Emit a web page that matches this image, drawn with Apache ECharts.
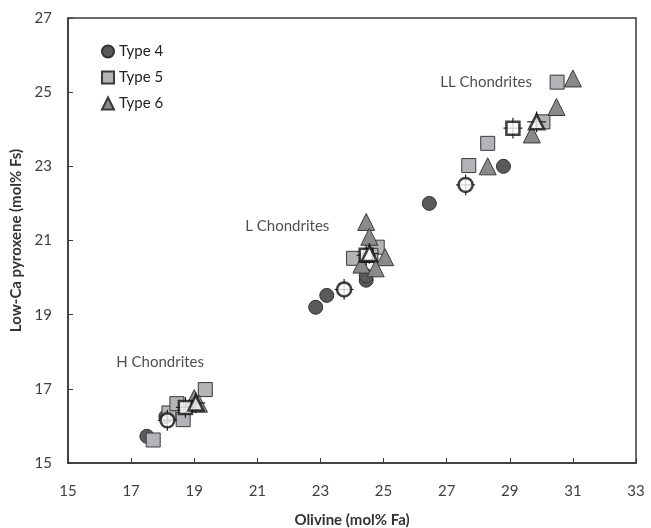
<!DOCTYPE html>
<html>
<head>
<meta charset="utf-8">
<script src="https://cdn.jsdelivr.net/npm/echarts@6/dist/echarts.min.js"></script>
<style>
  html, body { margin: 0; padding: 0; background: #fff; }
  #main { width: 651px; height: 528px; }
</style>
</head>
<body>
<div id="main"></div>
<script>
// individual meteorites [olivine Fa, low-Ca pyroxene Fs]
const type4 = [
  [17.5, 15.72], [18.1, 16.25],
  [22.85, 19.2], [23.2, 19.52], [24.45, 19.93], [24.45, 20.05],
  [26.45, 22.0], [28.8, 23.0]
];
const type5 = [
  [17.7, 15.62], [18.2, 16.35], [18.45, 16.6], [18.65, 16.17], [19.35, 16.98],
  [24.05, 20.52], [24.8, 20.82], [24.6, 20.6],
  [27.7, 23.02], [28.3, 23.62], [30.05, 24.2], [30.5, 25.27]
];
const type6 = [
  [19.0, 16.75], [19.15, 16.6],
  [24.45, 21.5], [24.55, 21.1], [25.05, 20.55], [24.3, 20.35], [24.75, 20.25],
  [28.3, 23.0], [29.7, 23.86], [30.48, 24.6], [31.0, 25.37]
];
// group means with error half-widths [x, y, dx, dy]
const mean4 = [[18.15, 16.15, 0.3, 0.28], [23.75, 19.68, 0.3, 0.28], [27.6, 22.5, 0.3, 0.28]];
const mean5 = [[18.72, 16.5, 0.3, 0.28], [29.1, 24.03, 0.3, 0.28], [24.45, 20.6, 0.3, 0.28]];
const mean6 = [[19.05, 16.62, 0.3, 0.28], [24.55, 20.65, 0.3, 0.28], [29.85, 24.2, 0.3, 0.28]];
// group labels
const groupLabels = [
  ['LL Chondrites', 28.25, 25.27],
  ['L Chondrites', 21.95, 21.39],
  ['H Chondrites', 17.92, 17.72]
];
const xTicks = [15, 33, 2];
const yTicks = [15, 27, 2];

const font = 'Lato, "Open Sans", sans-serif';
const edge = '#3a3a3a';

function errorBars(data) {
  return {
    type: 'custom',
    silent: true,
    z: 3,
    renderItem: function (params, api) {
      const x = api.value(0), y = api.value(1), dx = api.value(2), dy = api.value(3);
      const l = api.coord([x - dx, y]), r = api.coord([x + dx, y]);
      const t = api.coord([x, y + dy]), b = api.coord([x, y - dy]);
      const style = { stroke: '#222', lineWidth: 1.2 };
      return {
        type: 'group',
        children: [
          { type: 'line', shape: { x1: l[0], y1: l[1], x2: r[0], y2: r[1] }, style: style },
          { type: 'line', shape: { x1: t[0], y1: t[1], x2: b[0], y2: b[1] }, style: style }
        ]
      };
    },
    data: data
  };
}

function meanSeries(data, symbol, size) {
  return {
    type: 'scatter',
    symbol: symbol,
    symbolSize: size,
    z: 4,
    silent: true,
    itemStyle: { color: '#fff', borderColor: '#111', borderWidth: 2.5 },
    data: data.map(d => [d[0], d[1]])
  };
}

const chart = echarts.init(document.getElementById('main'));
chart.setOption({
  animation: false,
  grid: {
    left: 68, right: 15, top: 18, bottom: 65,
    outerBoundsMode: 'none', containLabel: false,
    show: true, borderColor: edge, borderWidth: 1.5, backgroundColor: 'transparent'
  },
  legend: {
    orient: 'vertical',
    left: 96, top: 39,
    itemGap: 11,
    itemWidth: 12, itemHeight: 12,
    textStyle: { fontFamily: font, fontSize: 15, color: '#222' },
    data: ['Type 4', 'Type 5', 'Type 6']
  },
  xAxis: {
    type: 'value',
    min: xTicks[0], max: xTicks[1], interval: xTicks[2],
    name: 'Olivine (mol% Fa)',
    nameLocation: 'middle', nameGap: 50,
    nameTextStyle: { fontFamily: font, fontSize: 15, fontWeight: 'bold', color: '#333' },
    axisLine: { lineStyle: { color: edge, width: 1.5 } },
    axisTick: { inside: true, length: 5, lineStyle: { color: edge } },
    axisLabel: { margin: 21, fontFamily: font, fontSize: 15, color: '#404040' },
    splitLine: { show: false }
  },
  yAxis: {
    type: 'value',
    min: yTicks[0], max: yTicks[1], interval: yTicks[2],
    name: 'Low-Ca pyroxene (mol% Fs)',
    nameLocation: 'middle', nameGap: 43,
    nameTextStyle: { fontFamily: font, fontSize: 15, fontWeight: 'bold', color: '#333' },
    axisLine: { lineStyle: { color: edge, width: 1.5 } },
    axisTick: { inside: true, length: 5, lineStyle: { color: edge } },
    axisLabel: { margin: 16, fontFamily: font, fontSize: 15, color: '#404040' },
    splitLine: { show: false }
  },
  series: [
    {
      name: 'Type 4', type: 'scatter', symbol: 'circle', symbolSize: 14, z: 2,
      itemStyle: { color: '#5a5a5a', borderColor: '#333', borderWidth: 1, opacity: 1 },
      data: type4
    },
    {
      name: 'Type 5', type: 'scatter', symbol: 'rect', symbolSize: 14, z: 2,
      itemStyle: { color: '#b3b3b8', borderColor: '#3a3a3a', borderWidth: 1, opacity: 1 },
      data: type5
    },
    {
      name: 'Type 6', type: 'scatter', symbol: 'triangle', symbolSize: 17, z: 2,
      itemStyle: { color: '#8a8a8a', borderColor: '#3a3a3a', borderWidth: 1, opacity: 1 },
      data: type6
    },
    errorBars(mean4), errorBars(mean5), errorBars(mean6),
    meanSeries(mean4, 'circle', 14),
    meanSeries(mean5, 'rect', 13),
    meanSeries(mean6, 'triangle', 15),
    {
      type: 'scatter', symbolSize: 0, silent: true,
      label: {
        show: true, position: 'inside',
        formatter: p => p.data[2],
        fontFamily: font, fontSize: 15, color: '#222'
      },
      data: groupLabels.map(g => [g[1], g[2], g[0]])
    }
  ]
});
</script>
</body>
</html>
